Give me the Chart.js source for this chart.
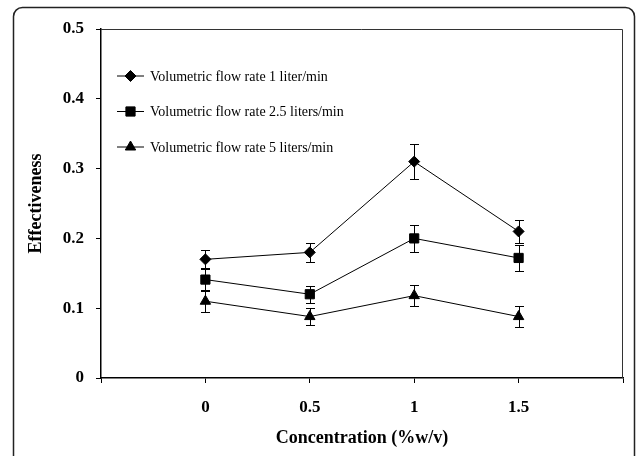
<!DOCTYPE html>
<html>
<head>
<meta charset="utf-8">
<script src="https://cdn.jsdelivr.net/npm/chart.js@4/dist/chart.umd.min.js"></script>
<style>
  html, body { margin: 0; padding: 0; background: #fff; }
  #wrap { width: 637px; height: 456px; }
</style>
</head>
<body>
<div id="wrap"><canvas id="chart" width="637" height="456"></canvas></div>
<script>
// concentration (%w/v)
const concentrations = [0, 0.5, 1, 1.5];
const xTickLabels = ['0', '0.5', '1', '1.5'];
const yTickLabels = ['0', '0.1', '0.2', '0.3', '0.4', '0.5'];

const seriesNames = [
    'Volumetric flow rate 1 liter/min',
    'Volumetric flow rate 2.5 liters/min',
    'Volumetric flow rate 5 liters/min'
];

// effectiveness + error bar half-lengths
const flow1 = [0.17, 0.18, 0.31, 0.21];
const flow1Err = [0.013, 0.014, 0.025, 0.016];
const flow25 = [0.141, 0.12, 0.2, 0.172];
const flow25Err = [0.015, 0.012, 0.019, 0.019];
const flow5 = [0.11, 0.088, 0.118, 0.088];
const flow5Err = [0.015, 0.012, 0.015, 0.015];

const serif = "'Liberation Serif', 'Times New Roman', serif";

function toPoints(ys) {
    return concentrations.map((x, i) => ({ x: x, y: ys[i] }));
}

function makeSet(label, values, errs, style, radius) {
    return {
        label: label,
        data: toPoints(values),
        errors: errs,
        borderColor: '#000',
        borderWidth: 1,
        backgroundColor: '#000',
        pointStyle: style,
        pointRadius: radius,
        pointHoverRadius: radius,
        pointBorderWidth: 1,
        pointBackgroundColor: '#000',
        pointBorderColor: '#000',
        tension: 0,
        fill: false
    };
}

// error bars, drawn under the lines and markers
const errorBars = {
    id: 'errorBars',
    beforeDatasetsDraw(chart) {
        const ctx = chart.ctx;
        const xs = chart.scales.x, ys = chart.scales.y;
        ctx.save();
        ctx.strokeStyle = '#000';
        ctx.lineWidth = 1;
        chart.data.datasets.forEach(ds => {
            ds.data.forEach((p, i) => {
                const e = ds.errors[i];
                const px = Math.round(xs.getPixelForValue(p.x)) + 0.5;
                const top = Math.round(ys.getPixelForValue(p.y + e)) + 0.5;
                const bot = Math.round(ys.getPixelForValue(p.y - e)) + 0.5;
                ctx.beginPath();
                ctx.moveTo(px, top); ctx.lineTo(px, bot);
                ctx.moveTo(px - 4.5, top); ctx.lineTo(px + 4.5, top);
                ctx.moveTo(px - 4.5, bot); ctx.lineTo(px + 4.5, bot);
                ctx.stroke();
            });
        });
        ctx.restore();
    }
};

// legend inside the plot, plot border on top/right, rounded outer frame
const decorations = {
    id: 'decorations',
    afterDraw(chart) {
        const ctx = chart.ctx;
        const a = chart.chartArea;
        ctx.save();

        // plot area top + right border
        ctx.strokeStyle = '#333';
        ctx.lineWidth = 1;
        ctx.beginPath();
        ctx.moveTo(a.left, a.top + 0.5);
        ctx.lineTo(a.right - 0.5, a.top + 0.5);
        ctx.lineTo(a.right - 0.5, a.bottom);
        ctx.stroke();

        // legend
        chart.data.datasets.forEach((ds, i) => {
            const y = a.top + 47 + i * 35.5;
            ctx.strokeStyle = '#000';
            ctx.lineWidth = 1;
            ctx.beginPath();
            ctx.moveTo(a.left + 16, y);
            ctx.lineTo(a.left + 43, y);
            ctx.stroke();
            ctx.fillStyle = '#000';
            Chart.helpers.drawPoint(ctx, {
                pointStyle: ds.pointStyle,
                radius: ds.pointRadius,
                borderWidth: 1,
                rotation: 0
            }, a.left + 29.5, y);
            ctx.font = '14px ' + serif;
            ctx.textBaseline = 'middle';
            ctx.textAlign = 'left';
            ctx.fillText(ds.label, a.left + 49, y + 1);
        });

        // outer frame
        ctx.strokeStyle = '#222';
        ctx.lineWidth = 1.5;
        ctx.beginPath();
        ctx.roundRect(13.5, 7.5, 621, 470, 9);
        ctx.stroke();
        ctx.restore();
    }
};

new Chart(document.getElementById('chart'), {
    type: 'line',
    data: {
        datasets: [
            makeSet(seriesNames[0], flow1, flow1Err, 'rectRot', 5.5),
            makeSet(seriesNames[1], flow25, flow25Err, 'rect', 6.5),
            makeSet(seriesNames[2], flow5, flow5Err, 'triangle', 6)
        ]
    },
    options: {
        responsive: false,
        animation: false,
        events: [],
        layout: { padding: { top: 29, right: 13, bottom: 0, left: 0 } },
        plugins: {
            legend: { display: false },
            tooltip: { enabled: false }
        },
        scales: {
            x: {
                type: 'linear',
                min: -0.5,
                max: 2,
                afterFit(scale) { scale.height = 78; },
                afterBuildTicks(scale) {
                    scale.ticks = [-0.5].concat(concentrations, [2]).map(v => ({ value: v }));
                },
                ticks: {
                    autoSkip: false,
                    maxRotation: 0,
                    padding: 14,
                    color: '#000',
                    font: { family: serif, size: 17, weight: 'bold' },
                    callback(v) {
                        const i = concentrations.indexOf(v);
                        return i < 0 ? '' : xTickLabels[i];
                    }
                },
                grid: { drawOnChartArea: false, drawTicks: true, tickLength: 5, color: '#000' },
                border: { display: true, color: '#000', width: 1.5 },
                title: {
                    display: true,
                    text: 'Concentration (%w/v)',
                    color: '#000',
                    font: { family: serif, size: 18, weight: 'bold' },
                    padding: { top: 0, bottom: 7 }
                }
            },
            y: {
                min: 0,
                max: 0.5,
                afterFit(scale) { scale.width = 101; },
                ticks: {
                    stepSize: 0.1,
                    padding: 12,
                    color: '#000',
                    font: { family: serif, size: 17, weight: 'bold' },
                    callback(v, i) { return yTickLabels[i]; }
                },
                grid: { drawOnChartArea: false, drawTicks: true, tickLength: 5, color: '#000' },
                border: { display: true, color: '#000', width: 1.5 },
                title: {
                    display: true,
                    text: 'Effectiveness',
                    color: '#000',
                    font: { family: serif, size: 18, weight: 'bold' },
                    padding: { top: 26, bottom: 0 }
                }
            }
        }
    },
    plugins: [errorBars, decorations]
});
</script>
</body>
</html>
